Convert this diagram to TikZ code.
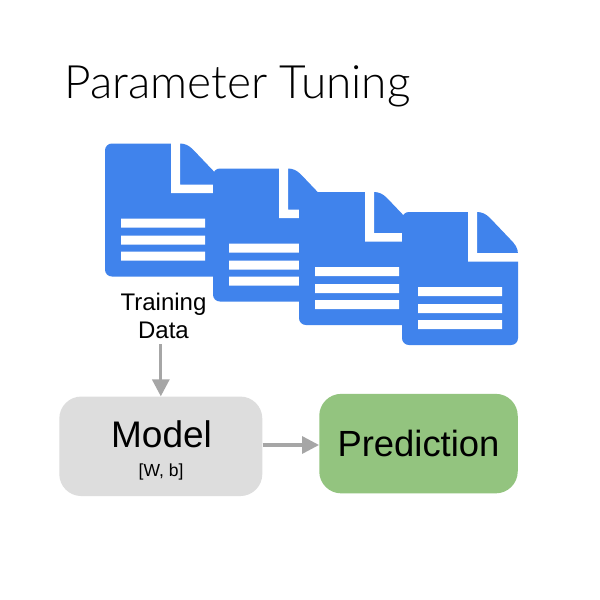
\documentclass[tikz,border=0pt]{standalone}
\usepackage{fontspec}
\setmainfont{Liberation Sans}
\newfontfamily\titlefont{Lato Light}
\usetikzlibrary{arrows.meta}
\definecolor{docblue}{HTML}{4083EC}
\definecolor{boxgrey}{HTML}{DDDDDD}
\definecolor{boxgreen}{HTML}{93C47F}
\definecolor{arrowgrey}{HTML}{A6A6A6}
\tikzset{
  docbody/.style={fill=docblue},
  docmark/.style={fill=white},
  flow/.style={draw=arrowgrey,line width=3.2pt,-{Triangle[length=17pt,width=17pt]}},
  boxnode/.style={rounded corners=22pt,inner sep=0pt,text=black,align=center},
  pics/document/.style={code={
    \path[docbody] (7,0) -- (75,0) .. controls (80,0) and (84,2) .. (88,6) -- (108,27) .. controls (113,32) and (116,36) .. (116,42) -- (116,126) .. controls (116,130) and (113,133) .. (109,133) -- (7,133) .. controls (3,133) and (0,130) .. (0,126) -- (0,7) .. controls (0,3) and (3,0) .. (7,0) -- cycle;
    \path[docmark] (66,-1) rectangle (75,41) (66,41) rectangle (117,49.5);
    \path[docmark] (16,75) rectangle (100,84) (16,92) rectangle (100,101) (16,108) rectangle (100,117);
  }}
}
\begin{document}
\begin{tikzpicture}[x=1pt,y=-1pt]
\useasboundingbox[fill=white] (0,0) rectangle (600,600);
\node[anchor=base west,inner sep=0pt,font=\titlefont\fontsize{46}{54}\selectfont] (title) at (64,98) {Parameter Tuning};
\pic at (105,143.5) {document};
\pic at (213,168.5) {document};
\pic at (299,192) {document};
\pic at (402,212) {document};
\node[anchor=base,inner sep=0pt,align=center,font=\fontsize{24}{28}\selectfont] (train) at (163.5,338) {Training\\Data};
\node[boxnode,fill=boxgrey,minimum width=203pt,minimum height=99.5pt] (model) at (160.8,446.3) {};
\node[anchor=base,inner sep=0pt,font=\fontsize{37}{40}\selectfont] (modeltext) at (161.5,447) {Model};
\node[anchor=base,inner sep=0pt,font=\fontsize{17.5}{20}\selectfont] (wb) at (161,476) {[W, b]};
\node[boxnode,fill=boxgreen,minimum width=198.5pt,minimum height=99.5pt,font=\fontsize{36.4}{40}\selectfont] (pred) at (418.5,443.6) {Prediction};
\draw[flow,shorten <=6pt] (train.south -| model.north) -- (model.north);
\draw[flow] (model.east |- 0,445) -- (pred.west |- 0,445);
\end{tikzpicture}
\end{document}
